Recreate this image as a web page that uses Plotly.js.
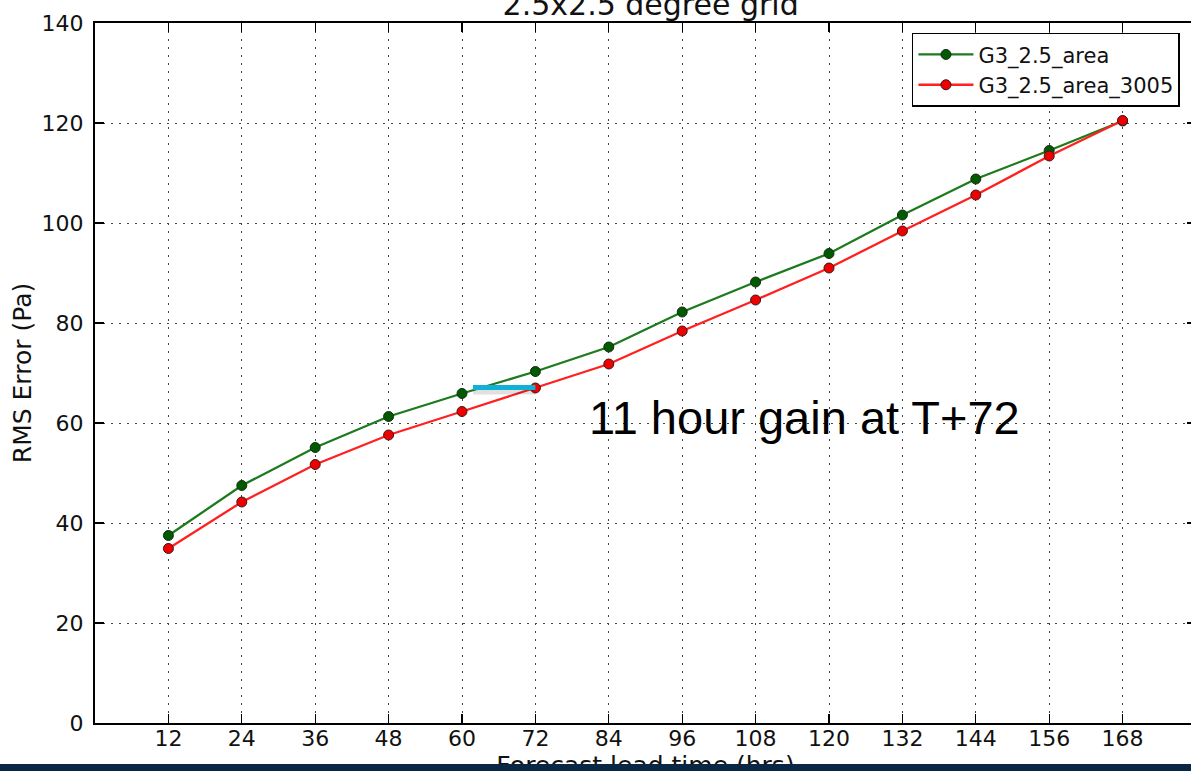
<!DOCTYPE html>
<html>
<head>
<meta charset="utf-8">
<script src="https://cdn.plot.ly/plotly-3.0.1.min.js"></script>
<style>
  html, body { margin:0; padding:0; width:1191px; height:771px; overflow:hidden; background:#ffffff; }
  #chart { position:absolute; left:0; top:-30px; width:1230px; height:830px; }
  #band { position:absolute; left:0; top:764px; width:1191px; height:7px; background:#0a2745; }
</style>
</head>
<body>
<div id="chart"></div>
<div id="band"></div>
<script>
// Data
const leadTimes = [12, 24, 36, 48, 60, 72, 84, 96, 108, 120, 132, 144, 156, 168];
const g3Area     = [37.5, 47.5, 55.1, 61.3, 65.9, 70.3, 75.2, 82.2, 88.2, 93.9, 101.6, 108.8, 114.5, 120.4];
const g3Area3005 = [34.9, 44.2, 51.7, 57.6, 62.3, 67.0, 71.8, 78.4, 84.6, 91.0, 98.4, 105.6, 113.4, 120.5];
const seriesNames = ["G3_2.5_area", "G3_2.5_area_3005"];
const yTicks = [0, 20, 40, 60, 80, 100, 120, 140];
const gainBarX = [61.8, 72];
const gainBarY = [67.1, 67.1];
const gainText = "11 hour gain at T+72";
const gainTextPos = [116.0, 61.2];

const font = "DejaVu Sans, sans-serif";

const traces = [
  {
    x: leadTimes, y: g3Area, name: seriesNames[0], type: "scatter", mode: "lines+markers",
    line: {color: "#1d7a1d", width: 2.3},
    marker: {color: "#005a00", size: 10, line: {color: "#1a2a1a", width: 1}}
  },
  {
    x: leadTimes, y: g3Area3005, name: seriesNames[1], type: "scatter", mode: "lines+markers",
    line: {color: "#ff2020", width: 2.3},
    marker: {color: "#ee0000", size: 10, line: {color: "#3a1a1a", width: 1}}
  }
];

const axisCommon = {
  showline: true, linecolor: "#000", linewidth: 2, mirror: "ticks",
  ticks: "inside", ticklen: 9, tickwidth: 1.2, tickcolor: "#000",
  showgrid: true, gridcolor: "#444", gridwidth: 1, griddash: "2px,6px",
  zeroline: false,
  tickfont: {family: font, size: 22, color: "#111"}
};

const layout = {
  width: 1230, height: 830,
  margin: {l: 95, r: 34, t: 53, b: 77},
  paper_bgcolor: "#fff", plot_bgcolor: "#fff",
  title: {text: "2.5x2.5 degree grid", font: {family: font, size: 30, color: "#111"},
          x: 0.529, xanchor: "center", yref: "container", y: 0.946, yanchor: "bottom"},
  xaxis: Object.assign({}, axisCommon, {
    range: [0, 180], tickvals: leadTimes, ticklabelstandoff: -5,
    title: {text: "Forecast lead time (hrs)", font: {family: font, size: 25, color: "#111"}, standoff: 0}
  }),
  yaxis: Object.assign({}, axisCommon, {
    range: [0, 140], tickvals: yTicks, ticklabelstandoff: 5,
    title: {text: "RMS Error (Pa)", font: {family: font, size: 25, color: "#111"}, standoff: 3}
  }),
  showlegend: true,
  legend: {
    x: 0.742, y: 0.986, xanchor: "left", yanchor: "top",
    bgcolor: "#fff", bordercolor: "#000", borderwidth: 1.5,
    font: {family: font, size: 21, color: "#111"},
    tracegroupgap: 0, itemwidth: 55
  },
  shapes: [
    {type: "line", xref: "x", yref: "y", x0: gainBarX[0], x1: gainBarX[1], y0: gainBarY[0] - 0.8, y1: gainBarY[1] - 0.8,
     line: {color: "rgba(0,0,0,0.12)", width: 6}},
    {type: "line", xref: "x", yref: "y", x0: gainBarX[0], x1: gainBarX[1], y0: gainBarY[0], y1: gainBarY[1],
     line: {color: "#12afd6", width: 5}}
  ],
  annotations: [
    {x: gainTextPos[0], y: gainTextPos[1], xref: "x", yref: "y", text: gainText, showarrow: false,
     font: {family: "Liberation Sans, Arial, sans-serif", size: 47, color: "#000"}}
  ]
};

Plotly.newPlot("chart", traces, layout, {displayModeBar: false, staticPlot: true});
</script>
</body>
</html>
